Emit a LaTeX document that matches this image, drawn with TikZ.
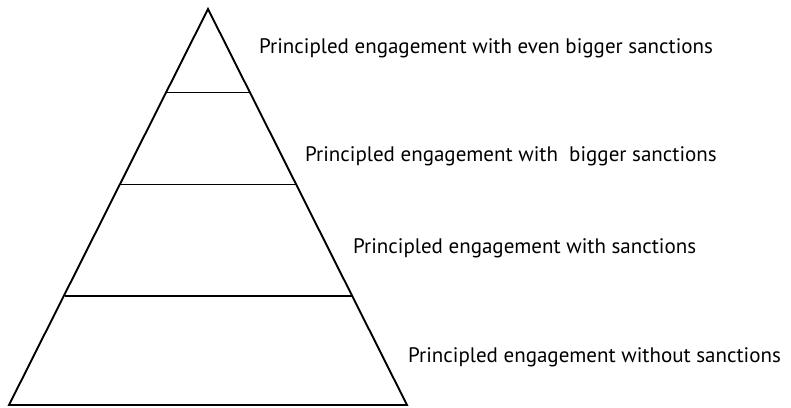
\documentclass[tikz,border=0pt]{standalone}
\usepackage{fontspec}
\setmainfont{PT Sans}
\begin{document}
\begin{tikzpicture}[x=1pt,y=-1pt,
  tier/.style={line width=1.9pt,line join=miter},
  lbl/.style={anchor=base west,inner sep=0pt,font=\fontsize{21}{24}\selectfont}]
\useasboundingbox (0,0) rectangle (791,407);
% pyramid outline
\coordinate (apex) at (208,9);
\coordinate (bl) at (9,405);
\coordinate (br) at (407,405);
\draw[tier] (apex) -- (bl) -- (br) -- cycle;
% tier dividers
\coordinate (l1) at (166,92.5);  \coordinate (r1) at (250,92.5);
\coordinate (l2) at (120,184.5); \coordinate (r2) at (296,184.5);
\coordinate (l3) at (65,296);    \coordinate (r3) at (352,296);
\draw[tier] (l1) -- (r1);
\draw[tier] (l2) -- (r2);
\draw[tier] (l3) -- (r3);
% labels
\node[lbl] (t1) at (259,53) {Principled engagement with even bigger sanctions};
\node[lbl] (t2) at (305,161) {Principled engagement with\ \ bigger sanctions};
\node[lbl] (t3) at (353,253) {Principled engagement with sanctions};
\node[lbl] (t4) at (408,362) {Principled engagement without sanctions};
\end{tikzpicture}
\end{document}
